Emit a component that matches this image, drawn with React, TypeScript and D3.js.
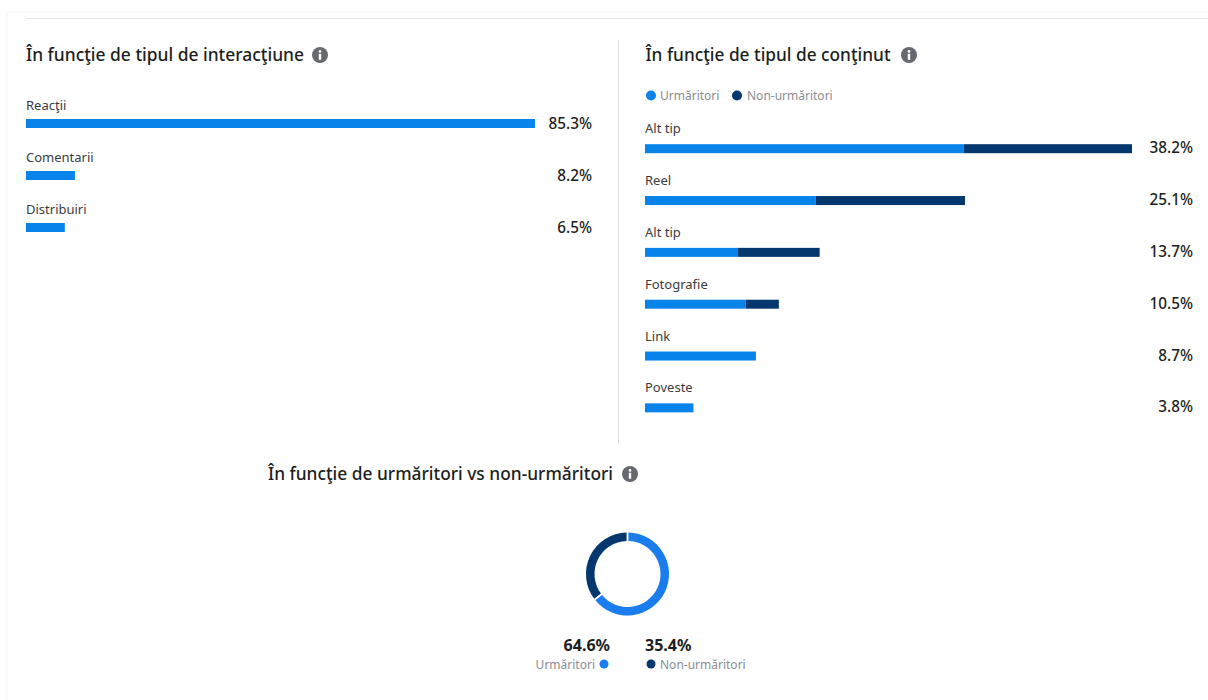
import React from "react";
import * as d3 from "d3";

// Date
const interactionCategories = ["Reacţii", "Comentarii", "Distribuiri"];
const interactionValues = [85.3, 8.2, 6.5];

const contentCategories = ["Alt tip", "Reel", "Alt tip", "Fotografie", "Link", "Poveste"];
const contentTotals = [38.2, 25.1, 13.7, 10.5, 8.7, 3.8];
const contentFollowers = [25.0, 13.4, 7.3, 7.9, 8.7, 3.8];

const audienceLabels = ["Urmăritori", "Non-urmăritori"];
const audienceValues = [64.6, 35.4];

const titles = [
  "În funcţie de tipul de interacţiune",
  "În funcţie de tipul de conţinut",
  "În funcţie de urmăritori vs non-urmăritori",
];

const BLUE = "#0783ea";
const NAVY = "#03376e";
const DONUT_BLUE = "#1b7cee";
const FONT = "'Noto Sans', 'Open Sans', sans-serif";

const Info = ({ x, y }: { x: number; y: number }) => (
  <g transform={`translate(${x},${y})`}>
    <circle r={8} fill="#666a70" />
    <circle cy={-3.6} r={1.3} fill="#fff" />
    <rect x={-1.2} y={-1.2} width={2.4} height={6} fill="#fff" />
  </g>
);

const Title = ({ x, y, text, width, infoX }: { x: number; y: number; text: string; width: number; infoX: number }) => (
  <>
    <text x={x} y={y} fontSize={18} fontWeight={500} fill="#1c1e21" textLength={width} lengthAdjust="spacingAndGlyphs">
      {text}
    </text>
    <Info x={infoX} y={y - 6} />
  </>
);

export default function App() {
  const leftX = d3.scaleLinear().domain([0, 85.3]).range([26, 535]);
  const leftY = d3.scaleBand<number>().domain(d3.range(3)).range([97, 253]);

  const rightX = d3.scaleLinear().domain([0, 38.2]).range([645, 1132]);
  const rightY = d3.scaleBand<number>().domain(d3.range(6)).range([122.2, 433.2]);

  const pie = d3.pie<number>().sort(null).padAngle(0.035)(audienceValues);
  const arc = d3.arc<d3.PieArcDatum<number>>().innerRadius(33).outerRadius(41.5);

  return (
    <svg
      width={1208}
      height={700}
      style={{ position: "absolute", left: 0, top: 0, fontFamily: FONT }}
    >
      <rect width={1208} height={700} fill="#fff" />
      <path d="M7,700V12H1208" fill="none" stroke="#f3f3f3" strokeWidth={1} />
      <line x1={26} x2={1208} y1={18.5} y2={18.5} stroke="#e6e6e6" />
      <line x1={618.5} x2={618.5} y1={40} y2={443} stroke="#dedede" />

      <Title x={26} y={61} text={titles[0]} width={278} infoX={320} />
      {interactionCategories.map((name, i) => {
        const top = leftY(i) as number;
        return (
          <g key={i}>
            <text x={26} y={top + 13} fontSize={13} fill="#3a3b3d">{name}</text>
            <rect x={leftX(0)} y={top + 22} width={leftX(interactionValues[i]) - leftX(0)} height={9} fill={BLUE} />
            <text x={592} y={top + 32} fontSize={15.3} fontWeight={500} textAnchor="end" fill="#1c1e21">
              {interactionValues[i].toFixed(1)}%
            </text>
          </g>
        );
      })}

      <Title x={645.5} y={61} text={titles[1]} width={245} infoX={909} />
      <circle cx={651} cy={95.5} r={5} fill={BLUE} />
      <text x={660} y={100} fontSize={12} fill="#8a8d91">{audienceLabels[0]}</text>
      <circle cx={737} cy={95.5} r={5} fill={NAVY} />
      <text x={747} y={100} fontSize={12} fill="#8a8d91">{audienceLabels[1]}</text>
      {contentCategories.map((name, i) => {
        const top = rightY(i) as number;
        return (
          <g key={i}>
            <text x={645} y={top + 11} fontSize={13} fill="#3a3b3d">{name}</text>
            <rect x={rightX(0)} y={top + 22} width={rightX(contentFollowers[i]) - rightX(0)} height={9} fill={BLUE} />
            <rect
              x={rightX(contentFollowers[i])}
              y={top + 22}
              width={rightX(contentTotals[i]) - rightX(contentFollowers[i])}
              height={9}
              fill={NAVY}
            />
            <text x={1193} y={top + 31} fontSize={15.3} fontWeight={500} textAnchor="end" fill="#1c1e21">
              {contentTotals[i].toFixed(1)}%
            </text>
          </g>
        );
      })}

      <Title x={268} y={480} text={titles[2]} width={345} infoX={630} />
      <g transform="translate(627.5,574)">
        {pie.map((d, i) => (
          <path key={i} d={arc(d) as string} fill={i === 0 ? DONUT_BLUE : NAVY} />
        ))}
      </g>

      <text x={610} y={651} fontSize={16} fontWeight={700} textAnchor="end" fill="#1c1e21">{audienceValues[0].toFixed(1)}%</text>
      <text x={645} y={651} fontSize={16} fontWeight={700} fill="#1c1e21">{audienceValues[1].toFixed(1)}%</text>
      <text x={595} y={669} fontSize={12} textAnchor="end" fill="#8a8d91">{audienceLabels[0]}</text>
      <circle cx={604} cy={664} r={4.5} fill={DONUT_BLUE} />
      <circle cx={651} cy={664} r={4.5} fill={NAVY} />
      <text x={660} y={669} fontSize={12} fill="#8a8d91">{audienceLabels[1]}</text>
    </svg>
  );
}
